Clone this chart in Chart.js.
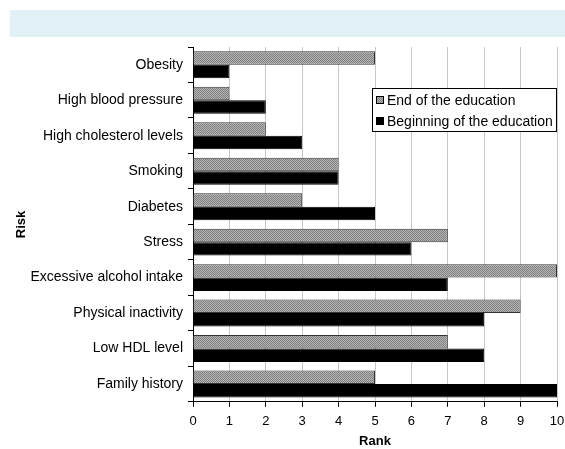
<!DOCTYPE html>
<html>
<head>
<meta charset="utf-8">
<script src="https://cdn.jsdelivr.net/npm/chart.js@4"></script>
<style>
  body { margin: 0; background: #fff; }
  #banner { position: absolute; left: 10px; top: 10px; width: 555px; height: 27px; background: #e2f1f6; }
  #riskChart { position: absolute; left: 0; top: 0; }
</style>
</head>
<body>
<div id="banner"></div>
<canvas id="riskChart" width="565" height="449"></canvas>
<script>
// Data
const risks = ['Obesity', 'High blood pressure', 'High cholesterol levels', 'Smoking', 'Diabetes',
    'Stress', 'Excessive alcohol intake', 'Physical inactivity', 'Low HDL level', 'Family history'];
const endRanks = [5, 1, 2, 4, 3, 7, 10, 9, 7, 5];
const beginRanks = [1, 2, 3, 4, 5, 6, 7, 8, 8, 10];
const rankTicks = [0, 1, 2, 3, 4, 5, 6, 7, 8, 9, 10];

const FONT = '"Liberation Sans", Arial, sans-serif';

// Hatched fill for the "end" bars
function makeHatch() {
    const c = document.createElement('canvas');
    c.width = 2; c.height = 2;
    const g = c.getContext('2d');
    g.fillStyle = '#b4b4b4';
    g.fillRect(0, 0, 2, 2);
    g.fillStyle = '#808080';
    g.fillRect(0, 0, 1, 1);
    g.fillRect(1, 1, 1, 1);
    return g.createPattern(c, 'repeat');
}
const hatch = makeHatch();

// Legend box drawn inside the plot area
const boxLegend = {
    id: 'boxLegend',
    afterDraw(chart) {
        const ctx = chart.ctx;
        const area = chart.chartArea;
        const x = area.right - 185, y = area.top + 41, w = 184, h = 43;
        ctx.save();
        ctx.fillStyle = '#fff';
        ctx.fillRect(x, y, w, h);
        ctx.strokeStyle = '#000';
        ctx.lineWidth = 1;
        ctx.strokeRect(x + 0.5, y + 0.5, w, h);
        ctx.font = '14px ' + FONT;
        ctx.textBaseline = 'middle';
        chart.data.datasets.forEach((ds, i) => {
            const ry = y + 12 + i * 21;
            ctx.fillStyle = ds.backgroundColor;
            ctx.fillRect(x + 4, ry - 4, 8, 8);
            ctx.strokeStyle = '#000';
            ctx.strokeRect(x + 4.5, ry - 3.5, 7, 7);
            ctx.fillStyle = '#000';
            ctx.fillText(ds.label, x + 15, ry + 1);
        });
        ctx.restore();
    }
};

const ctx = document.getElementById('riskChart').getContext('2d');
new Chart(ctx, {
    type: 'bar',
    data: {
        labels: risks,
        datasets: [{
            label: 'End of the education',
            data: endRanks,
            backgroundColor: hatch,
            borderColor: '#333',
            borderWidth: 1,
            barPercentage: 1,
            categoryPercentage: 0.76,
        }, {
            label: 'Beginning of the education',
            data: beginRanks,
            backgroundColor: '#000',
            borderColor: '#000',
            borderWidth: 1,
            barPercentage: 1,
            categoryPercentage: 0.76,
        }]
    },
    options: {
        indexAxis: 'y',
        responsive: false,
        animation: false,
        layout: { padding: { top: 47, right: 0, left: 10, bottom: 0 } },
        plugins: {
            legend: { display: false },
            tooltip: { enabled: false }
        },
        scales: {
            x: {
                min: 0,
                max: 10,
                afterBuildTicks: axis => { axis.ticks = rankTicks.map(v => ({ value: v })); },
                afterFit: axis => { axis.paddingRight = 8; axis.paddingLeft = 0; },
                grid: { color: '#c8c8c8', tickColor: '#000', tickLength: 5 },
                border: { color: '#000' },
                ticks: { color: '#000', font: { family: FONT, size: 13 }, padding: 7 },
                title: { display: true, text: 'Rank', color: '#000', font: { family: FONT, size: 13, weight: 'bold' }, padding: { top: -3, bottom: 0 } }
            },
            y: {
                afterFit: axis => { axis.width = 183; },
                grid: { drawOnChartArea: false, tickColor: '#000', tickLength: 5 },
                border: { color: '#000' },
                ticks: { autoSkip: false, color: '#000', font: { family: FONT, size: 14 }, padding: 5 },
                title: { display: true, text: 'Risk', color: '#000', font: { family: FONT, size: 13, weight: 'bold' }, padding: { top: 4, bottom: 4 } }
            }
        }
    },
    plugins: [boxLegend]
});
</script>
</body>
</html>
